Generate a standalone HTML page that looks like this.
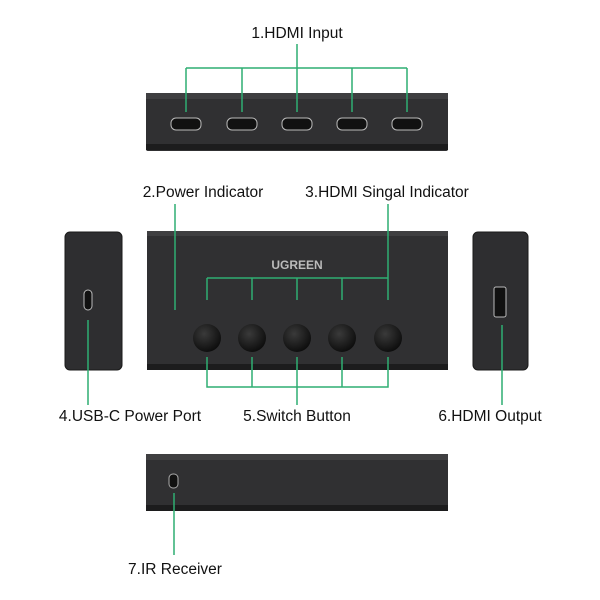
<!DOCTYPE html>
<html><head><style>body{margin:0;background:#fff}svg{display:block}text{font-family:"Liberation Sans",sans-serif;font-size:15.5px;fill:#111}</style></head>
<body>
<svg width="600" height="600" viewBox="0 0 600 600">
<defs><radialGradient id="b" cx="40%" cy="35%" r="65%"><stop offset="0" stop-color="#3a3a3a"/><stop offset="1" stop-color="#0e0e0e"/></radialGradient></defs>
<rect x="146" y="93" width="302" height="58" rx="2" fill="#303032"/>
<rect x="146" y="93" width="302" height="6" fill="#3f3f41"/>
<rect x="146" y="144" width="302" height="6" fill="#1c1c1d"/>
<g fill="#111" stroke="#bbb" stroke-width="1">
<rect x="171" y="118" width="30" height="12" rx="5"/><rect x="227" y="118" width="30" height="12" rx="5"/><rect x="282" y="118" width="30" height="12" rx="5"/><rect x="337" y="118" width="30" height="12" rx="5"/><rect x="392" y="118" width="30" height="12" rx="5"/></g>
<rect x="65" y="232" width="57" height="138" rx="5" fill="#2e2e30" stroke="#1a1a1a"/>
<rect x="84" y="290" width="8" height="20" rx="4" fill="#111" stroke="#bbb"/>
<rect x="147" y="231" width="301" height="139" fill="#303032"/>
<rect x="147" y="231" width="301" height="5" fill="#3f3f41"/>
<rect x="147" y="364" width="301" height="6" fill="#1c1c1d"/>
<text x="297" y="269" text-anchor="middle" style="font-size:12px;font-weight:bold;fill:#bbb">UGREEN</text>
<g fill="url(#b)"><circle cx="207" cy="338" r="14"/><circle cx="252" cy="338" r="14"/><circle cx="297" cy="338" r="14"/><circle cx="342" cy="338" r="14"/><circle cx="388" cy="338" r="14"/></g>
<rect x="473" y="232" width="55" height="138" rx="5" fill="#2e2e30" stroke="#1a1a1a"/>
<rect x="494" y="287" width="12" height="30" rx="2" fill="#111" stroke="#bbb"/>
<rect x="146" y="454" width="302" height="57" fill="#303032"/>
<rect x="146" y="454" width="302" height="6" fill="#3f3f41"/>
<rect x="146" y="505" width="302" height="6" fill="#1c1c1d"/>
<rect x="169" y="474" width="9" height="14" rx="4" fill="#111" stroke="#aaa"/>
<g stroke="#2fae72" stroke-width="1.5" fill="none">
<path d="M297 44V112M186 68H407M186 68V112M242 68V112M352 68V112M407 68V112"/>
<path d="M388 204V300M207 278H388M207 278V300M252 278V300M297 278V300M342 278V300"/>
<path d="M175 204V310"/>
<path d="M207 357V387H388V357M252 357V387M342 357V387M297 357V405"/>
<path d="M88 320V405M502 325V405M174 493V555"/>
</g>
<text x="297" y="38" text-anchor="middle">1.HDMI Input</text>
<text x="203" y="197" text-anchor="middle">2.Power Indicator</text>
<text x="387" y="197" text-anchor="middle">3.HDMI Singal Indicator</text>
<text x="130" y="421" text-anchor="middle">4.USB-C Power Port</text>
<text x="297" y="421" text-anchor="middle">5.Switch Button</text>
<text x="490" y="421" text-anchor="middle">6.HDMI Output</text>
<text x="175" y="574" text-anchor="middle">7.IR Receiver</text>
</svg>
</body></html>
